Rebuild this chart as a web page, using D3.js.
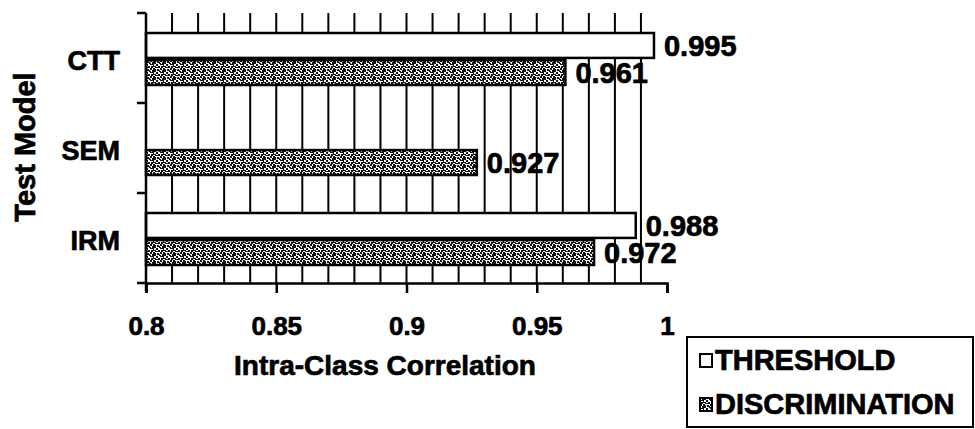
<!DOCTYPE html>
<html>
<head>
<meta charset="utf-8">
<script src="https://cdn.jsdelivr.net/npm/d3@7/dist/d3.min.js"></script>
<style>
  html, body { margin: 0; padding: 0; background: #fff; }
  svg { display: block; font-family: "Liberation Sans", Arial, Helvetica, sans-serif; font-weight: bold; }
  svg text { stroke: #000; stroke-width: 0.7px; fill: #000; }
</style>
</head>
<body>
<svg id="chart" width="975" height="429"></svg>
<script>
const categories = ["CTT", "SEM", "IRM"];
const seriesNames = ["THRESHOLD", "DISCRIMINATION"];
const thresholdValues = [0.995, null, 0.988];
const discriminationValues = [0.961, 0.927, 0.972];
const tickValues = [0.8, 0.85, 0.9, 0.95, 1];
const tickLabels = ["0.8", "0.85", "0.9", "0.95", "1"];
const valueLabels = { THRESHOLD: ["0.995", null, "0.988"], DISCRIMINATION: ["0.961", "0.927", "0.972"] };

const svg = d3.select("#chart");
const defs = svg.append("defs");

// stipple pattern for the discrimination series
const pat = defs.append("pattern").attr("id", "stip")
  .attr("width", 10).attr("height", 8).attr("patternUnits", "userSpaceOnUse");
pat.append("rect").attr("width", 10).attr("height", 8).attr("fill", "#fff");
const dots = [[0,0,3,1],[3,0,1,3],[6,0,2,2],[1,2,2,2],[5,3,3,1],[8,2,2,2],[0,4,2,2],[3,4,2,2],[7,5,2,2],[2,6,3,2],[5,5,1,3],[4,2,2,1],[9,6,1,2],[0,7,1,1]];
pat.selectAll("rect.d").data(dots).join("rect").attr("class", "d")
  .attr("x", d => d[0]).attr("y", d => d[1]).attr("width", d => d[2]).attr("height", d => d[3])
  .attr("fill", "#111");

const x = d3.scaleLinear().domain([0.8, 1]).range([146, 667]);
const y = d3.scaleBand().domain(categories).range([13, 283]);
const inner = d3.scaleBand().domain(seriesNames).range([20, 72]).paddingInner(0.08);

const fills = { THRESHOLD: "#fff", DISCRIMINATION: "url(#stip)" };
const seriesData = { THRESHOLD: thresholdValues, DISCRIMINATION: discriminationValues };

// vertical gridlines
const grid = x.ticks(20).filter(v => v > 0.8 + 1e-9 && v < 1 - 1e-9);
svg.append("g").selectAll("line").data(grid).join("line")
  .attr("x1", d => x(d)).attr("x2", d => x(d))
  .attr("y1", y.range()[0]).attr("y2", y.range()[1])
  .attr("stroke", "#000").attr("stroke-width", 2);

// bars
const bars = [];
seriesNames.forEach(s => {
  categories.forEach((c, i) => {
    const v = seriesData[s][i];
    if (v != null) bars.push({ s, c, v, label: valueLabels[s][i] });
  });
});

svg.append("g").selectAll("rect").data(bars).join("rect")
  .attr("x", x(0.8))
  .attr("y", d => y(d.c) + inner(d.s))
  .attr("width", d => x(d.v) - x(0.8))
  .attr("height", inner.bandwidth())
  .attr("fill", d => fills[d.s])
  .attr("stroke", "#000").attr("stroke-width", 2.5);

svg.append("g").selectAll("text").data(bars).join("text")
  .attr("x", d => x(d.v) + 10)
  .attr("y", d => y(d.c) + inner(d.s) + inner.bandwidth() / 2)
  .attr("dy", "0.36em")
  .attr("font-size", 29)
  .text(d => d.label);

// bottom axis
const xAxis = d3.axisBottom(x).tickValues(tickValues)
  .tickFormat((d, i) => tickLabels[i]).tickSizeOuter(0).tickSize(10);
const gx = svg.append("g").attr("transform", `translate(0,${y.range()[1]})`).call(xAxis);
gx.select(".domain").attr("stroke", "#000").attr("stroke-width", 2.5);
gx.selectAll(".tick line").attr("stroke", "#000").attr("stroke-width", 2.5);
gx.selectAll(".tick text").attr("y", 52).attr("dy", 0)
  .attr("font-size", 26).attr("font-weight", "bold")
  .attr("font-family", "'Liberation Sans', Arial, sans-serif").attr("fill", "#000");

// left axis (ticks at band boundaries)
const bounds = categories.map(c => y(c)).concat([y.range()[1]]);
const gy = svg.append("g");
gy.append("line").attr("x1", x(0.8)).attr("x2", x(0.8))
  .attr("y1", y.range()[0]).attr("y2", y.range()[1] + 8)
  .attr("stroke", "#000").attr("stroke-width", 2.5);
gy.selectAll("line.t").data(bounds).join("line").attr("class", "t")
  .attr("x1", x(0.8) - 9).attr("x2", x(0.8))
  .attr("y1", d => d).attr("y2", d => d)
  .attr("stroke", "#000").attr("stroke-width", 2.5);
gy.selectAll("text").data(categories).join("text")
  .attr("x", x(0.8) - 26)
  .attr("y", d => y(d) + y.bandwidth() / 2 + 2)
  .attr("dy", "0.36em")
  .attr("text-anchor", "end")
  .attr("font-size", 27)
  .text(d => d);

// axis titles
svg.append("text").attr("x", 385).attr("y", 375)
  .attr("text-anchor", "middle").attr("font-size", 28)
  .text("Intra-Class Correlation");
svg.append("text")
  .attr("transform", "translate(35,147) rotate(-90)")
  .attr("text-anchor", "middle").attr("font-size", 29)
  .text("Test Model");

// legend
const lg = svg.append("g");
lg.append("rect").attr("x", 687).attr("y", 337).attr("width", 286).attr("height", 90)
  .attr("fill", "#fff").attr("stroke", "#000").attr("stroke-width", 2);
const ly = d3.scalePoint().domain(seriesNames).range([360, 404]);
lg.selectAll("rect.sw").data(seriesNames).join("rect").attr("class", "sw")
  .attr("x", 700).attr("y", d => ly(d) - 6).attr("width", 12).attr("height", 13)
  .attr("fill", d => fills[d]).attr("stroke", "#000").attr("stroke-width", 2);
lg.selectAll("text").data(seriesNames).join("text")
  .attr("x", 715).attr("y", d => ly(d)).attr("dy", "0.36em")
  .attr("font-size", 29)
  .text(d => d);
</script>
</body>
</html>
